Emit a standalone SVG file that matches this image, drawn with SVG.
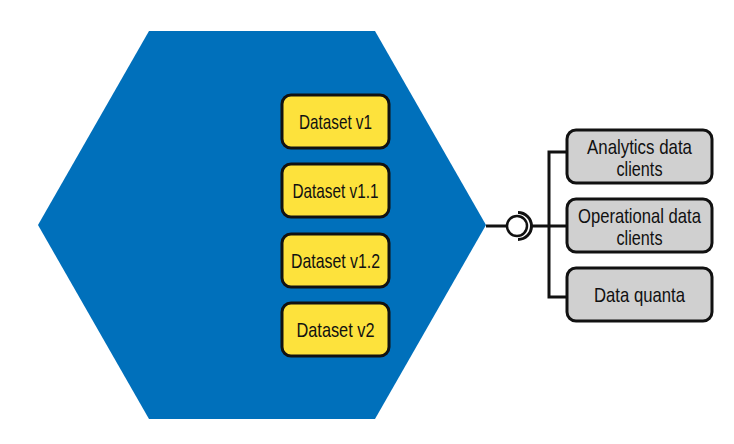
<svg xmlns="http://www.w3.org/2000/svg" width="734" height="444" viewBox="0 0 734 444">
  <style>
    .hex { fill: #0070bb; }
    .ds rect { fill: #fde23c; stroke: #111; stroke-width: 3; }
    .cl rect { fill: #d0d0d0; stroke: #111; stroke-width: 3; }
    text { font-family: "Liberation Sans", "DejaVu Sans", sans-serif; font-size: 21px; fill: #111; text-anchor: middle; }
    .wire { fill: none; stroke: #111; stroke-width: 3; stroke-linejoin: miter; }
  </style>

  <!-- data product hexagon -->
  <g id="product">
    <polygon class="hex" points="149,31 375,31 486,225 375,419 149,419 38,225"/>
  </g>

  <!-- dataset versions -->
  <g id="dataset-v1" class="ds">
    <rect x="282" y="95" width="107" height="53" rx="9"/>
    <text x="335.5" y="129" textLength="73" lengthAdjust="spacingAndGlyphs">Dataset v1</text>
  </g>
  <g id="dataset-v1-1" class="ds">
    <rect x="282" y="164" width="107" height="53" rx="9"/>
    <text x="335.5" y="198" textLength="86" lengthAdjust="spacingAndGlyphs">Dataset v1.1</text>
  </g>
  <g id="dataset-v1-2" class="ds">
    <rect x="282" y="234" width="107" height="53" rx="9"/>
    <text x="335.5" y="268" textLength="89" lengthAdjust="spacingAndGlyphs">Dataset v1.2</text>
  </g>
  <g id="dataset-v2" class="ds">
    <rect x="282" y="303" width="107" height="53" rx="9"/>
    <text x="335.5" y="337" textLength="78" lengthAdjust="spacingAndGlyphs">Dataset v2</text>
  </g>

  <!-- output port and fan-out -->
  <g id="connectors">
    <path class="wire" d="M486,226 H507"/>
    <path class="wire" d="M531,226 H567"/>
    <path class="wire" d="M567,152 H549 V297 H567"/>
    <path class="wire" d="M518,212.5 A13.5,13.5 0 0 1 518,239.5" stroke-width="3.5"/>
    <circle cx="517" cy="226" r="10" fill="#fff" stroke="#111" stroke-width="2.5"/>
  </g>

  <!-- consumers -->
  <g id="analytics-clients" class="cl">
    <rect x="567" y="130" width="145" height="53" rx="9"/>
    <text x="639.5" y="154" textLength="105" lengthAdjust="spacingAndGlyphs">Analytics data</text>
    <text x="639.5" y="176" textLength="46" lengthAdjust="spacingAndGlyphs">clients</text>
  </g>
  <g id="operational-clients" class="cl">
    <rect x="567" y="199" width="145" height="53" rx="9"/>
    <text x="639.5" y="223" textLength="123" lengthAdjust="spacingAndGlyphs">Operational data</text>
    <text x="639.5" y="245" textLength="46" lengthAdjust="spacingAndGlyphs">clients</text>
  </g>
  <g id="data-quanta" class="cl">
    <rect x="567" y="268" width="145" height="53" rx="9"/>
    <text x="639.5" y="302" textLength="91" lengthAdjust="spacingAndGlyphs">Data quanta</text>
  </g>
</svg>
